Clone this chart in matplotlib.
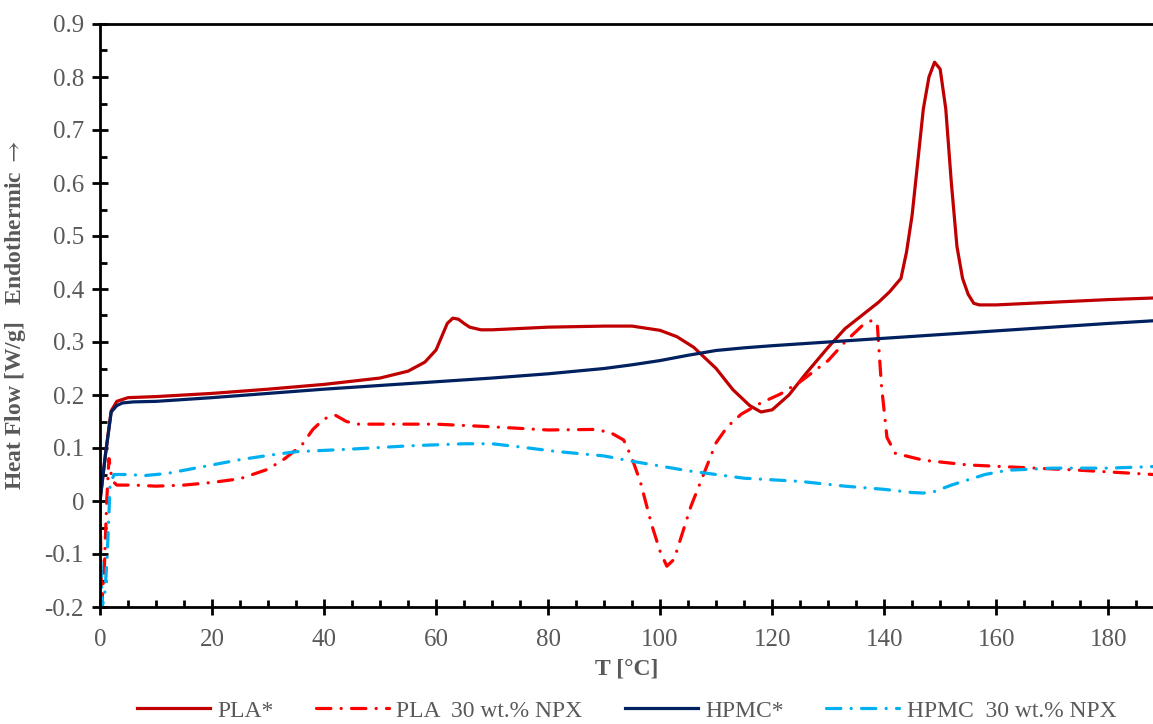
import matplotlib.pyplot as plt
from matplotlib.ticker import MultipleLocator

plt.rcParams['font.family'] = ['Liberation Serif', 'DejaVu Serif']
plt.rcParams['mathtext.fontset'] = 'stix'

GRAY = '#595959'

# PLA* (solid dark red)
pla_t = [0, 1, 2, 3, 5, 10, 20, 30, 40, 50, 55, 58, 60, 61, 62, 63, 64, 65, 66, 68,
         70, 80, 90, 95, 100, 103, 106, 110, 113, 116, 118, 120, 123, 126, 130, 133,
         136, 139, 141, 143, 144, 145, 146, 147, 148, 149, 150, 151, 152, 153, 154,
         155, 156, 157, 160, 170, 180, 188]
pla_v = [0.0, 0.09, 0.17, 0.188, 0.195, 0.197, 0.203, 0.211, 0.220, 0.232, 0.245, 0.262,
         0.285, 0.31, 0.335, 0.345, 0.343, 0.335, 0.328, 0.323, 0.323, 0.328, 0.330,
         0.330, 0.322, 0.31, 0.29, 0.25, 0.21, 0.18, 0.168, 0.172, 0.2, 0.24, 0.29,
         0.325, 0.35, 0.375, 0.395, 0.42, 0.47, 0.54, 0.64, 0.74, 0.80, 0.828, 0.815,
         0.74, 0.60, 0.48, 0.42, 0.39, 0.373, 0.370, 0.370, 0.375, 0.380, 0.383]

# PLA 30 wt.% NPX (dash-dot red)
npla_t = [0, 0.3, 0.8, 1.2, 1.6, 2.0, 2.5, 3, 6, 10, 15, 20, 25, 30, 33, 36, 38, 40, 42,
          44, 46, 50, 60, 70, 80, 88, 91, 93.5, 95, 96.5, 98.5, 100, 101.2, 102.5, 104,
          105.5, 107, 108.5, 110, 112, 114.5, 118, 121.5, 125, 130, 133, 136, 138, 138.8,
          139.5, 140.5, 142, 147, 155, 165, 175, 188]
npla_v = [0.0, -0.2, -0.12, 0.0, 0.08, 0.05, 0.035, 0.03, 0.03, 0.028, 0.03, 0.035, 0.042,
          0.06, 0.08, 0.105, 0.135, 0.155, 0.162, 0.15, 0.145, 0.145, 0.145, 0.14, 0.134,
          0.135, 0.13, 0.115, 0.08, 0.035, -0.045, -0.095, -0.123, -0.11, -0.06, -0.01,
          0.03, 0.07, 0.11, 0.14, 0.164, 0.185, 0.202, 0.225, 0.265, 0.3, 0.33, 0.342,
          0.33, 0.22, 0.12, 0.09, 0.077, 0.068, 0.063, 0.058, 0.05]

# HPMC* (solid navy)
hpmc_t = [0, 1, 2, 3, 4, 6, 10, 20, 30, 40, 50, 60, 70, 80, 90, 95, 100, 105, 110,
          115, 120, 130, 140, 150, 160, 170, 180, 188]
hpmc_v = [0.0, 0.09, 0.168, 0.18, 0.185, 0.187, 0.188, 0.195, 0.203, 0.211, 0.218,
          0.225, 0.232, 0.240, 0.250, 0.257, 0.265, 0.275, 0.284, 0.289, 0.293, 0.300,
          0.307, 0.314, 0.321, 0.328, 0.335, 0.340]

# HPMC 30 wt.% NPX (dash-dot light blue)
nhpmc_t = [0, 0.4, 0.9, 1.3, 1.8, 2.5, 5, 8, 12, 16, 20, 25, 30, 35, 45, 55, 65, 70,
           75, 81, 90, 95, 100, 105, 110, 115, 125, 133, 140, 145, 147, 149, 152, 155,
           158, 162, 170, 180, 188]
nhpmc_v = [-0.05, -0.2, -0.17, -0.1, 0.03, 0.05, 0.05, 0.048, 0.052, 0.06, 0.068, 0.078,
           0.086, 0.093, 0.098, 0.104, 0.108, 0.108, 0.102, 0.094, 0.085, 0.075, 0.066,
           0.057, 0.05, 0.043, 0.037, 0.028, 0.022, 0.016, 0.015, 0.018, 0.03, 0.04,
           0.05, 0.058, 0.062, 0.062, 0.065]

fig = plt.figure(figsize=(11.53, 7.24), dpi=100)
ax = fig.add_axes([100 / 1153, 1 - 607 / 724, 1 - 100 / 1153, (607 - 24) / 724])

dashdot = (0, (4.5, 3.2, 0.05, 3.2))
ax.plot(pla_t, pla_v, color='#C00000', lw=2.3, label='PLA*', solid_joinstyle='round')
ax.plot(npla_t, npla_v, color='#FF0000', lw=2.3, ls=dashdot, dash_capstyle='round',
        label='PLA  30 wt.% NPX')
ax.plot(hpmc_t, hpmc_v, color='#002060', lw=2.3, label='HPMC*', solid_joinstyle='round')
ax.plot(nhpmc_t, nhpmc_v, color='#00B0F0', lw=2.3, ls=dashdot, dash_capstyle='round',
        label='HPMC  30 wt.% NPX')

ax.set_xlim(0, 188)
ax.set_ylim(-0.2, 0.9)
ax.xaxis.set_major_locator(MultipleLocator(20))
ax.xaxis.set_minor_locator(MultipleLocator(5))
ax.yaxis.set_minor_locator(MultipleLocator(0.05))

ax.set_yticks([-0.2, -0.1, 0, 0.1, 0.2, 0.3, 0.4, 0.5, 0.6, 0.7, 0.8, 0.9])
ax.set_yticklabels(['-0.2', '-0.1', '0', '0.1', '0.2', '0.3', '0.4', '0.5', '0.6',
                    '0.7', '0.8', '0.9'])

ax.tick_params(which='major', direction='inout', length=11, width=2,
               labelsize=18, labelcolor=GRAY, pad=6)
ax.tick_params(axis='x', which='major', pad=10)
ax.tick_params(which='minor', direction='in', length=5, width=2)

for side in ['left', 'bottom', 'top']:
    ax.spines[side].set_linewidth(2)
ax.spines['right'].set_visible(False)

ax.set_xlabel('T [°C]', fontsize=17, fontweight='bold', color=GRAY, labelpad=6)
ax.set_ylabel(r'Heat Flow [W/g]   Endothermic $\rightarrow$', fontsize=17,
              fontweight='bold', color=GRAY, labelpad=12)

leg = ax.legend(loc='center', bbox_to_anchor=(0.5, -0.178), ncol=4, frameon=False,
                fontsize=17, handlelength=3.1, columnspacing=1.8, handletextpad=0.3)
for t in leg.get_texts():
    t.set_color(GRAY)

fig.savefig('out.png', dpi=100)
